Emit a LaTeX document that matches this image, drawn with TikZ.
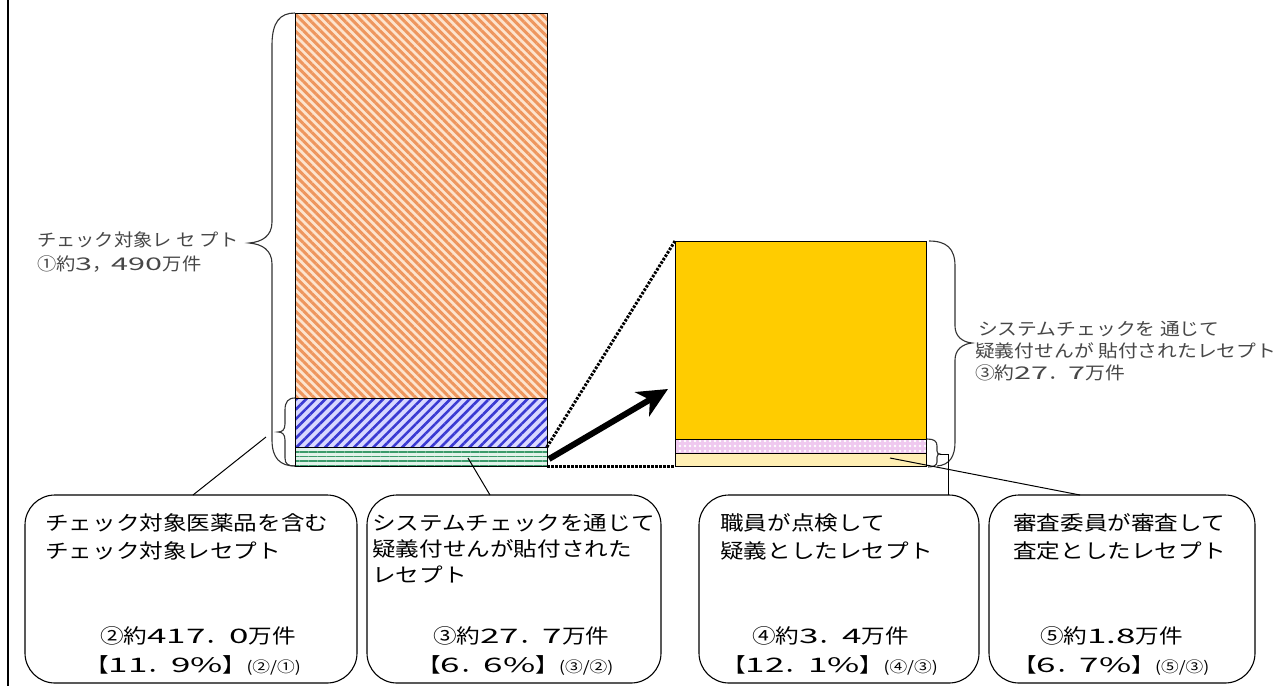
\documentclass[tikz,border=0pt]{standalone}
\usepackage{fontspec}
\newfontfamily\jp[FakeStretch=1.18]{Noto Sans CJK JP}
\newfontfamily\jpwide[FakeStretch=1.75]{Noto Sans CJK JP}
\newfontfamily\jplab[FakeStretch=1.1]{Noto Sans CJK JP}
\newfontfamily\jplabr[FakeStretch=1.13]{Noto Sans CJK JP}
\usetikzlibrary{patterns.meta,arrows.meta}
\newcommand\dg[1]{{\jpwide #1}}
\newcommand\smallpar[1]{{\fontsize{15}{15}\selectfont #1}}
\definecolor{orgline}{HTML}{EE965E}
\definecolor{orgbg}{HTML}{FDE4CE}
\definecolor{bluline}{HTML}{3A3AD2}
\definecolor{blubg}{HTML}{D8D8FF}
\definecolor{grnline}{HTML}{3A9A6A}
\definecolor{grnbg}{HTML}{E2F2EA}
\definecolor{gold}{HTML}{FFCC00}
\definecolor{pinkbg}{HTML}{EFC8EF}
\definecolor{lightyel}{HTML}{FFEFB4}
\tikzset{
  bar/.style={draw=black, line width=0.9pt},
  brace/.style={draw=black!80, line width=1.1pt},
  pointer/.style={draw=black, line width=1pt},
  callout/.style={draw=black, line width=1.1pt, rounded corners=30pt, inner sep=0pt, minimum height=188pt},
  boxtext/.style={anchor=west, inner sep=0pt, font={\jp\fontsize{20}{21}\selectfont}},
  labtext/.style={anchor=west, inner sep=0pt, text=black!72, font={\jplab\fontsize{17.5}{18}\selectfont}},
  labtextr/.style={anchor=west, inner sep=0pt, text=black!72, font={\jplabr\fontsize{17.5}{18}\selectfont}},
  dotline/.style={draw=black, line width=3pt, dash pattern=on 2.5pt off 1.5pt},
  bigarrow/.style={draw=black, line width=6pt, -{Stealth[length=30pt,width=28pt,inset=9pt]}}
}
\begin{document}
\begin{tikzpicture}[x=1pt,y=-1pt]
\useasboundingbox (0,0) rectangle (1276,686);
\fill[white] (0,0) rectangle (1276,686);

% left frame line
\coordinate (fT) at (8,0);
\coordinate (fB) at (8,686);
\draw[line width=1.3pt] (fT) -- (fB);

% ---- left bar ----
\fill[orgbg] (295,13) rectangle (547,398);
\fill[pattern={Lines[angle=-45,distance=6pt,line width=3pt]}, pattern color=orgline] (295,13) rectangle (547,398);
\draw[bar] (295,13) rectangle (547,398);
\fill[blubg] (295,398) rectangle (547,447);
\fill[pattern={Lines[angle=45,distance=6.8pt,line width=2.6pt]}, pattern color=bluline] (295,398) rectangle (547,447);
\draw[bar] (295,398) rectangle (547,447);
\fill[grnbg] (295,447) rectangle (547,466);
\fill[pattern={Lines[angle=0,distance=4.5pt,line width=1.6pt]}, pattern color=grnline] (295,447) rectangle (547,466);
\draw[bar] (295,447) rectangle (547,466);

% ---- right bar ----
\fill[gold] (675,241) rectangle (926,439);
\draw[bar] (675,241) rectangle (926,439);
\fill[pinkbg] (675,439) rectangle (926,453);
\fill[pattern={Dots[distance=5pt,radius=1.3pt]}, pattern color=white] (675,439) rectangle (926,453);
\draw[bar] (675,439) rectangle (926,453);
\fill[lightyel] (675,453) rectangle (926,466);
\draw[bar] (675,453) rectangle (926,466);

% ---- named points ----
\coordinate (gTR) at (547,447);
\coordinate (gBR) at (547,466);
\coordinate (rTL) at (675,241);
\coordinate (rBL) at (675,466);
\coordinate (arS) at (549,459);
\coordinate (arE) at (668,389);

% zoom lines
\draw[dotline] (gTR) -- (rTL);
\draw[dotline] (gBR) -- (rBL);
\draw[bigarrow] (arS) -- (arE);

% ---- braces ----
\coordinate (bigTip) at (249,243);
\draw[brace] (295,13) .. controls (280,13) and (272,22) .. (272,45) -- (272,222)
  .. controls (272,236) and (262,242) .. (bigTip)
  .. controls (262,244) and (272,250) .. (272,264) -- (272,440)
  .. controls (272,458) and (280,466) .. (295,466);
\coordinate (smTip) at (278,432);
\draw[brace] (295,398) .. controls (288,398) and (285,402) .. (285,410) -- (285,424)
  .. controls (285,430) and (282,432) .. (smTip)
  .. controls (282,432) and (285,434) .. (285,440) -- (285,458)
  .. controls (285,464) and (288,466) .. (295,466);
\coordinate (rTip) at (972,343);
\draw[brace] (929,241) .. controls (946,241) and (955,248) .. (955,266) -- (955,326)
  .. controls (955,336) and (962,342) .. (rTip)
  .. controls (962,344) and (955,350) .. (955,360) -- (955,442)
  .. controls (955,456) and (950,465) .. (937,466);
\coordinate (rsTip) at (940,454);
\draw[brace] (927,439) .. controls (934,439) and (937,441) .. (937,446) -- (937,451)
  .. controls (937,453) and (938,454) .. (rsTip)
  .. controls (938,454) and (937,455) .. (937,457) -- (937,462)
  .. controls (937,465) and (934,467) .. (928,467);

% ---- labels ----
\node[labtext] (labL1) at (37,240) {チェック対象レ セ プト};
\node[labtext] (labL2) at (37,264) {①約\dg{3}，\dg{490}万件};
\node[labtextr] (labR1) at (978,329) {システムチェックを 通じて};
\node[labtextr] (labR2) at (975,351) {疑義付せんが 貼付されたレセプト};
\node[labtextr] (labR3) at (975,373) {③約\dg{27}．\dg{7}万件};

% ---- callout boxes ----
\node[callout, minimum width=332pt] (b1) at (191,589) {};
\node[callout, minimum width=294pt] (b2) at (514,589) {};
\node[callout, minimum width=280pt] (b3) at (839,589) {};
\node[callout, minimum width=266pt] (b4) at (1122,589) {};

% pointers
\coordinate (p1s) at (266,437);
\coordinate (p1e) at (193,495);
\draw[pointer] (p1s) -- (p1e);
\coordinate (p2s) at (468,458);
\coordinate (p2e) at (490,495);
\draw[pointer] (p2s) -- (p2e);
\coordinate (p3m) at (948,454);
\coordinate (p3e) at (948,495);
\draw[pointer] (rsTip) -- (p3m) -- (p3e);
\coordinate (p4s) at (890,458);
\coordinate (p4e) at (1080,495);
\draw[pointer] (p4s) -- (p4e);

% box texts
\node[boxtext] (t11) at (45,523) {チェック対象医薬品を含む};
\node[boxtext] (t12) at (45,551) {チェック対象レセプト};
\node[boxtext] (t13) at (100,636) {②約\dg{417}．\dg{0}万件};
\node[boxtext] (t14) at (85,665) {【\dg{11}．\dg{9}\dg{\%}】\smallpar{(②/①)}};

\node[boxtext] (t21) at (372,523) {システムチェックを通じて};
\node[boxtext] (t22) at (372,549) {疑義付せんが貼付された};
\node[boxtext] (t23) at (372,575) {レセプト};
\node[boxtext] (t24) at (433,636) {③約\dg{27}．\dg{7}万件};
\node[boxtext] (t25) at (417,665) {【\dg{6}．\dg{6}\dg{\%}】\smallpar{(③/②)}};

\node[boxtext] (t31) at (720,523) {職員が点検して};
\node[boxtext] (t32) at (720,551) {疑義としたレセプト};
\node[boxtext] (t33) at (752,636) {④約\dg{3}．\dg{4}万件};
\node[boxtext] (t34) at (722,665) {【\dg{12}．\dg{1}\dg{\%}】\smallpar{(④/③)}};

\node[boxtext] (t41) at (1013,523) {審査委員が審査して};
\node[boxtext] (t42) at (1013,551) {査定としたレセプト};
\node[boxtext] (t43) at (1040,636) {⑤約\dg{1.8}万件};
\node[boxtext] (t44) at (1013,665) {【\dg{6}．\dg{7}\dg{\%}】\smallpar{(⑤/③)}};
\end{tikzpicture}
\end{document}
